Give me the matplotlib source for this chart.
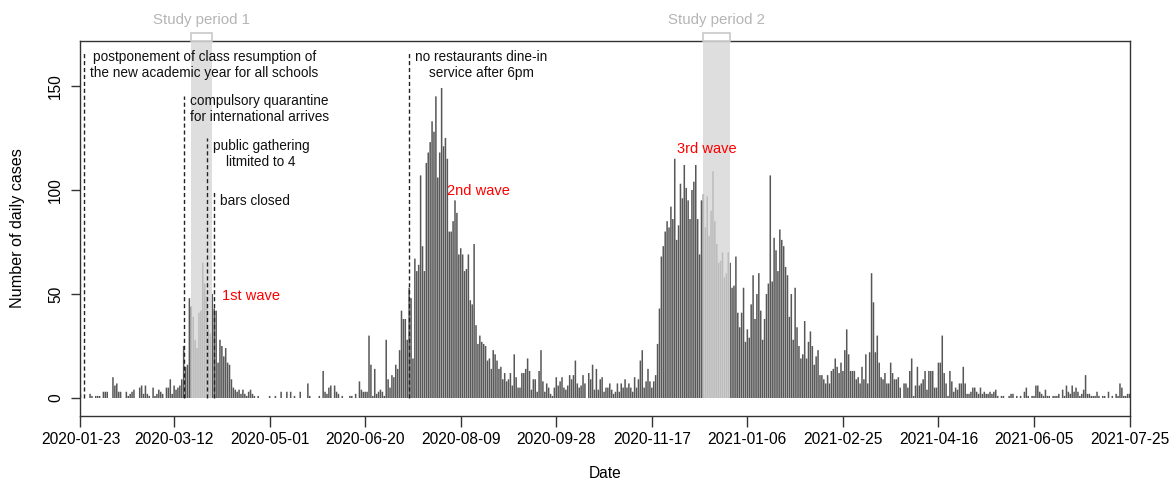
import numpy as np
import pandas as pd
import matplotlib
matplotlib.use("Agg")
import matplotlib.pyplot as plt
import matplotlib.transforms as mtransforms
from matplotlib.patches import Rectangle

plt.rcParams['font.family'] = ['Liberation Sans', 'DejaVu Sans']

# ---------------- data (daily confirmed cases) ----------------
start_date = "2020-01-23"
cases_2020_01 = [2, 0, 0, 0, 0, 2, 1, 0, 1]
cases_2020_02 = [1, 1, 0, 3, 3, 3, 0, 0, 10, 6, 7, 3, 3, 0, 0, 3, 1, 2, 3, 4,
                 0, 0, 5, 6, 2, 6, 2, 1, 0]
cases_2020_03 = [5, 1, 2, 4, 3, 2, 0, 5, 5, 9, 2, 6, 4, 5, 6, 9, 25, 15, 16, 48,
                 44, 39, 28, 24, 41, 42, 65, 55, 49, 33, 31]
cases_2020_04 = [50, 43, 42, 17, 28, 25, 20, 24, 17, 16, 9, 5, 4, 3, 4, 2, 4, 2, 1, 3,
                 4, 2, 1, 0, 1, 0, 0, 0, 0, 0]
cases_2020_05 = [1, 0, 0, 1, 0, 0, 3, 0, 0, 3, 0, 3, 0, 1, 0, 0, 3, 0, 0, 0,
                 7, 1, 0, 0, 0, 0, 1, 0, 13, 3, 2]
cases_2020_06 = [5, 6, 0, 6, 3, 2, 0, 1, 0, 0, 0, 1, 1, 0, 2, 0, 8, 4, 3, 3,
                 3, 30, 16, 1, 14, 2, 3, 4, 3, 1]
cases_2020_07 = [28, 9, 5, 11, 10, 16, 14, 23, 42, 38, 38, 28, 53, 48, 19, 67, 61, 64, 107, 73,
                 61, 113, 118, 123, 133, 128, 145, 106, 118, 149, 121]
cases_2020_08 = [125, 115, 80, 80, 85, 95, 89, 69, 72, 69, 61, 62, 69, 47, 45, 74, 35, 26, 30, 27,
                 26, 25, 18, 19, 14, 23, 21, 18, 14, 15, 9]
cases_2020_09 = [12, 8, 9, 12, 6, 21, 10, 5, 5, 12, 12, 14, 19, 13, 4, 9, 9, 3, 13, 23,
                 8, 3, 7, 5, 2, 1, 5, 10, 6, 8]
cases_2020_10 = [10, 5, 4, 6, 11, 9, 11, 18, 7, 5, 6, 11, 7, 0, 12, 9, 16, 4, 14, 4,
                 9, 10, 3, 5, 5, 7, 4, 2, 3, 7, 3]
cases_2020_11 = [7, 5, 9, 5, 7, 5, 3, 10, 5, 9, 18, 23, 5, 8, 14, 8, 5, 8, 11, 26,
                 43, 68, 73, 80, 85, 82, 92, 86, 115, 76]
cases_2020_12 = [83, 103, 96, 112, 101, 95, 86, 100, 104, 112, 86, 69, 95, 98, 82, 97, 78, 90, 109, 85,
                 74, 65, 66, 70, 58, 60, 70, 65, 53, 54, 68]
cases_2021_01 = [41, 34, 41, 53, 27, 33, 29, 45, 59, 38, 50, 60, 42, 28, 38, 50, 55, 107, 56, 77,
                 71, 61, 81, 76, 73, 63, 59, 39, 50, 28, 53]
cases_2021_02 = [34, 25, 19, 21, 37, 19, 27, 32, 25, 16, 20, 23, 11, 11, 9, 7, 11, 7, 13, 14,
                 19, 15, 12, 17, 13, 23, 33, 21]
cases_2021_03 = [13, 13, 13, 9, 10, 7, 15, 9, 21, 7, 22, 60, 46, 22, 30, 17, 10, 9, 12, 7,
                 7, 17, 12, 9, 9, 10, 5, 0, 7, 7, 5]
cases_2021_04 = [13, 19, 1, 6, 15, 6, 7, 9, 13, 4, 13, 13, 13, 5, 5, 17, 17, 30, 12, 7,
                 1, 13, 8, 3, 5, 4, 7, 7, 15, 7]
cases_2021_05 = [2, 2, 3, 5, 5, 3, 2, 5, 2, 3, 2, 2, 3, 2, 3, 4, 1, 0, 1, 1,
                 0, 0, 1, 2, 2, 0, 1, 0, 1, 0, 3]
cases_2021_06 = [5, 1, 0, 1, 1, 6, 6, 3, 2, 1, 4, 1, 1, 0, 1, 1, 1, 2, 0, 4,
                 1, 6, 3, 2, 6, 3, 5, 3, 1, 2]
cases_2021_07 = [4, 11, 2, 2, 1, 1, 1, 3, 1, 0, 1, 1, 0, 3, 0, 1, 0, 2, 1, 7,
                 5, 1, 1, 2, 2]

tick_labels = ["2020-01-23", "2020-03-12", "2020-05-01", "2020-06-20", "2020-08-09",
               "2020-09-28", "2020-11-17", "2021-01-06", "2021-02-25", "2021-04-16",
               "2021-06-05", "2021-07-25"]
yticks = [0, 50, 100, 150]

event_dates = ["2020-01-25", "2020-03-17", "2020-03-29", "2020-04-02", "2020-07-13"]
event_tops = [166, 145, 125, 100, 166]
event_texts = ["postponement of class resumption of\nthe new academic year for all schools",
               "compulsory quarantine\nfor international arrives",
               "public gathering\nlitmited to 4",
               "bars closed",
               "no restaurants dine-in\nservice after 6pm"]
event_text_y = [160, 139, 117.5, 94.5, 160]

wave_labels = ["1st wave", "2nd wave", "3rd wave"]
wave_dates = ["2020-04-06", "2020-08-02", "2020-11-30"]
wave_y = [49, 99.5, 119.5]

study_labels = ["Study period 1", "Study period 2"]
study_starts = ["2020-03-21", "2020-12-14"]
study_ends = ["2020-04-01", "2020-12-28"]

# ---------------- assemble ----------------
cases = np.array(cases_2020_01 + cases_2020_02 + cases_2020_03 + cases_2020_04 +
                 cases_2020_05 + cases_2020_06 + cases_2020_07 + cases_2020_08 +
                 cases_2020_09 + cases_2020_10 + cases_2020_11 + cases_2020_12 +
                 cases_2021_01 + cases_2021_02 + cases_2021_03 + cases_2021_04 +
                 cases_2021_05 + cases_2021_06 + cases_2021_07)
dates = pd.date_range(start_date, periods=len(cases), freq="D")

fig = plt.figure(figsize=(11.69, 4.8), dpi=100)
ax = fig.add_axes([80 / 1169, (480 - 416) / 480, 1050 / 1169, 375 / 480])

bars = ax.bar(dates, cases, width=0.8, color="#575757", linewidth=0, zorder=2)
for b in bars:
    b.set_snap(False)

ax.set_xlim(pd.Timestamp(dates[0]) - pd.Timedelta(hours=6),
            pd.Timestamp(dates[-1]) + pd.Timedelta(hours=6))
ax.set_ylim(-8.65, 171.6)

# study periods
trans = mtransforms.blended_transform_factory(ax.transData, ax.transAxes)
y0_axes = 8.65 / (171.6 + 8.65)
for lab, s, e in zip(study_labels, study_starts, study_ends):
    s = pd.Timestamp(s)
    e = pd.Timestamp(e)
    ax.add_patch(Rectangle((s, y0_axes), e - s, 1.0 - y0_axes, transform=trans,
                           facecolor="#d6d6d6", alpha=0.8, lw=0, zorder=3))
    ax.add_patch(Rectangle((s, 1.0), e - s, 0.022, transform=trans, clip_on=False,
                           facecolor="white", edgecolor="#c8c8c8", lw=1.2, zorder=5))
    mid = s + (e - s) / 2
    ax.text(mid, 1.056, lab, transform=trans, ha="center", va="center",
            color="#b5b5b5", fontsize=10.8)

# events
for d, top, txt, ty in zip(event_dates, event_tops, event_texts, event_text_y):
    d = pd.Timestamp(d)
    ax.vlines(d, 0, top, colors="#222222", linestyles=(0, (3, 2)), lw=1.0, zorder=4)
    ax.annotate(txt, xy=(d, ty), xytext=(4.3, 0), textcoords="offset points",
                ha="left", va="center", multialignment="center", fontsize=9.8,
                color="#111111", linespacing=1.18, zorder=6)

for lab, d, y in zip(wave_labels, wave_dates, wave_y):
    ax.text(pd.Timestamp(d), y, lab, color="#ff0000", fontsize=10.5,
            ha="left", va="center", zorder=6)

# axes styling
for sp in ax.spines.values():
    sp.set_color("#333333")
    sp.set_linewidth(1.0)

ax.set_xticks(pd.to_datetime(tick_labels))
ax.set_xticklabels(tick_labels)
ax.set_yticks(yticks)
ax.set_yticklabels([str(v) for v in yticks])
ax.tick_params(axis="x", length=7.7, width=1.0, color="#333333", pad=3.5,
               labelsize=11.2)
ax.tick_params(axis="y", length=6.5, width=1.0, color="#333333", pad=5.5,
               labelsize=11.2, labelrotation=90)
for t in ax.get_yticklabels():
    t.set_verticalalignment("center")

fig.text(605 / 1169, 1 - 474 / 480, "Date", ha="center", va="center", fontsize=11.2)
fig.text(18 / 1169, 1 - 228 / 480, "Number of daily cases", ha="center", va="center",
         rotation=90, fontsize=11.6)

fig.savefig("out.png", dpi=100)
